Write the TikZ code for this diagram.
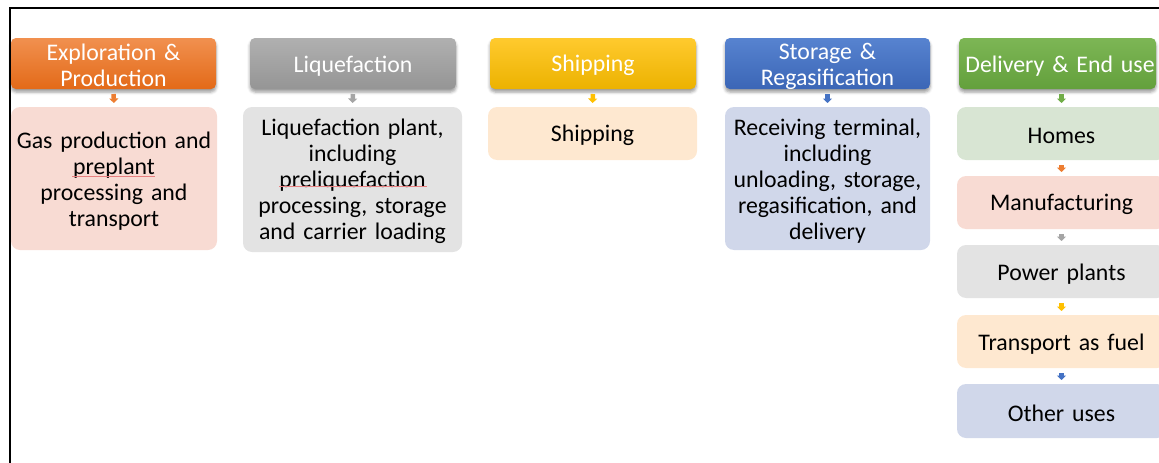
\documentclass[tikz,border=0pt]{standalone}
\usepackage{fontspec}
\setmainfont{Carlito}
\usetikzlibrary{arrows.meta,shadows.blur}

% stage colours
\definecolor{orgA}{HTML}{ED7D31}\definecolor{orgT}{HTML}{F1904F}\definecolor{orgB}{HTML}{E36A18}\definecolor{orgL}{HTML}{F8DBD3}
\definecolor{gryA}{HTML}{A5A5A5}\definecolor{gryT}{HTML}{B0B0B0}\definecolor{gryB}{HTML}{959595}\definecolor{gryL}{HTML}{E3E3E3}
\definecolor{ylwA}{HTML}{FFC000}\definecolor{ylwT}{HTML}{FFCA2E}\definecolor{ylwB}{HTML}{ECB200}\definecolor{ylwL}{HTML}{FEE8D0}
\definecolor{bluA}{HTML}{4472C4}\definecolor{bluT}{HTML}{5783D0}\definecolor{bluB}{HTML}{3B66B6}\definecolor{bluL}{HTML}{D0D7EA}
\definecolor{grnA}{HTML}{70AD47}\definecolor{grnT}{HTML}{7DB655}\definecolor{grnB}{HTML}{63A03C}\definecolor{grnL}{HTML}{D8E5D3}
\definecolor{spell}{HTML}{E88080}

\tikzset{
  % the invisible strut lifts the first line's height so the text sits a little lower
  txt/.style={font=\fontsize{23.8}{26}\selectfont, execute at begin node={\rule{0pt}{21pt}}},
  hdr/.style={txt, rectangle, rounded corners=5pt, minimum height=51pt,
    inner sep=0pt, outer sep=0pt, text=white, align=center, anchor=north west,
    blur shadow={shadow xshift=0pt, shadow yshift=-3pt, shadow blur radius=3pt, shadow opacity=40}},
  body/.style={txt, rectangle, rounded corners=9pt, inner sep=0pt, outer sep=0pt,
    text=black, align=center, anchor=north west},
  link/.style={line width=4.5pt, -{Triangle[width=9pt,length=4.5pt]},
    shorten <=5pt, shorten >=4pt},
}

\begin{document}
\begin{tikzpicture}[x=1pt,y=-1pt]
\useasboundingbox (0,0) rectangle (1159,463);
\clip (0,0) rectangle (1159,463);

% frame
\draw[line width=2pt] (1160,8) -- (10,8) -- (10,464);

% stage headers
\node[hdr, top color=orgT, bottom color=orgB, minimum width=205pt, text width=200pt] (h1) at (11,38) {Exploration \&\\Production};
\node[hdr, top color=gryT, bottom color=gryB, minimum width=206pt, text width=200pt] (h2) at (250,38) {Liquefaction};
\node[hdr, top color=ylwT, bottom color=ylwB, minimum width=206pt, text width=200pt] (h3) at (490,38) {Shipping};
\node[hdr, top color=bluT, bottom color=bluB, minimum width=205pt, text width=200pt] (h4) at (725,38) {Storage \&\\Regasification};
\node[hdr, top color=grnT, bottom color=grnB, minimum width=197pt, text width=197pt] (h5) at (959,38) {\hspace*{5pt}Delivery \& End use};

% stage details
\node[body, fill=orgL, minimum width=206pt, minimum height=143pt, text width=200pt] (b1) at (11,107)
  {Gas production and\\preplant\\processing and\\transport};
\node[body, fill=gryL, minimum width=219pt, minimum height=145pt, text width=210pt] (b2) at (243,107)
  {Liquefaction plant,\\including\\preliquefaction\\processing, storage\\and carrier loading};
\node[body, fill=ylwL, minimum width=209pt, minimum height=53pt, text width=200pt] (b3) at (488,107) {Shipping};
\node[body, fill=bluL, minimum width=205pt, minimum height=143pt, text width=200pt] (b4) at (725,107)
  {Receiving terminal,\\including\\unloading, storage,\\regasification, and\\delivery};

% end uses
\node[body, fill=grnL, minimum width=209pt, minimum height=53pt, text width=200pt] (u1) at (957,107) {Homes};
\node[body, fill=orgL, minimum width=209pt, minimum height=53pt, text width=200pt] (u2) at (957,176) {Manufacturing};
\node[body, fill=gryL, minimum width=209pt, minimum height=53pt, text width=200pt] (u3) at (957,245) {Power plants};
\node[body, fill=ylwL, minimum width=209pt, minimum height=53pt, text width=200pt] (u4) at (957,315) {Transport as fuel};
\node[body, fill=bluL, minimum width=209pt, minimum height=54pt, text width=200pt] (u5) at (957,384) {Other uses};

% connectors
\draw[link, orgA] (h1.south) -- (b1.north);
\draw[link, gryA] (h2.south) -- (b2.north);
\draw[link, ylwA] (h3.south) -- (b3.north);
\draw[link, bluA] (h4.south) -- (b4.north);
\draw[link, grnA] ([xshift=4pt]h5.south) -- (u1.north);
\draw[link, orgA] (u1.south) -- (u2.north);
\draw[link, gryA] (u2.south) -- (u3.north);
\draw[link, ylwA] (u3.south) -- (u4.north);
\draw[link, bluA] (u4.south) -- (u5.north);

% spelling marks
\draw[spell, line width=0.7pt] (72,176.5) -- (155,176.5);
\draw[spell, line width=0.7pt] (279,186.5) -- (427,186.5);
\end{tikzpicture}
\end{document}
